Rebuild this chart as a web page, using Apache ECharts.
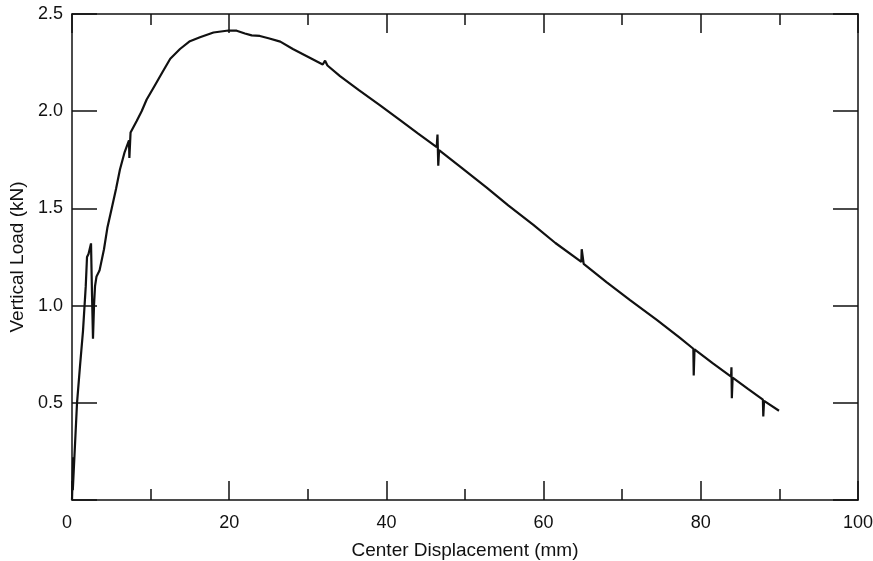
<!DOCTYPE html>
<html>
<head>
<meta charset="utf-8">
<script src="https://cdn.jsdelivr.net/npm/echarts@6/dist/echarts.min.js"></script>
<style>
  html, body { margin: 0; padding: 0; background: #fff; }
  #chart { width: 873px; height: 561px; }
</style>
</head>
<body>
<div id="chart"></div>
<script>
/* ── data: center displacement (mm) / vertical load (kN) ── */
const DISP = [
  0.0, 0.15, 0.1, 0.4, 0.64, 1.0, 1.4, 1.75, 1.91, 2.1, 2.42, 2.55, 2.67, 2.8, 2.93, 3.12, 3.5,
  4.07, 4.5, 5.05, 5.6, 6.1, 6.7, 7.25, 7.3, 7.45, 8.23, 8.86, 9.5, 10.5, 11.5, 12.5, 13.74,
  15.0, 16.28, 18.0, 19.9, 20.95, 22.0, 22.86, 23.0, 23.9, 25.0, 26.5, 28.1, 30.0, 31.9, 32.2,
  32.5, 34.1, 36.5, 39.2, 41.7, 44.0, 46.4, 46.5, 46.6, 46.7, 49.5, 52.76, 55.5, 58.7, 61.5,
  64.8, 64.85, 65.0, 65.1, 68.0, 71.0, 74.4, 77.35, 79.05, 79.1, 79.2, 81.5, 83.85, 83.9,
  83.95, 84.05, 86.0, 87.9, 87.95, 88.05, 89.95
]
const LOAD = [
  0.0, 0.22, 0.05, 0.30, 0.50, 0.68, 0.87, 1.10, 1.25, 1.265, 1.32, 1.05, 0.83, 1.00, 1.10, 1.15, 1.18,
  1.29, 1.40, 1.50, 1.60, 1.70, 1.79, 1.85, 1.76, 1.89, 1.95, 2.00, 2.06, 2.13, 2.20, 2.27, 2.32,
  2.36, 2.38, 2.405, 2.415, 2.414, 2.40, 2.39, 2.38, 2.387, 2.375, 2.358, 2.32, 2.28, 2.24, 2.26,
  2.235, 2.18, 2.108, 2.03, 1.955, 1.886, 1.815, 1.88, 1.72, 1.80, 1.711, 1.607, 1.516, 1.415, 1.322,
  1.225, 1.29, 1.28, 1.215, 1.121, 1.028, 0.926, 0.834, 0.778, 0.64, 0.775, 0.704, 0.635, 0.683,
  0.523, 0.63, 0.572, 0.516, 0.43, 0.51, 0.459
]

const X_MIN = 0, X_MAX = 100, X_STEP = 20
const Y_MIN = 0, Y_MAX = 2.5, Y_STEP = 0.5

const FONT = '"Liberation Sans", Arial, Helvetica, sans-serif'
const INK = '#111'

/* 공통 축 스타일 (ticks inside, box frame) */
function frameAxis(extra) {
  return Object.assign({
    type: 'value',
    axisLine: { show: true, onZero: false, lineStyle: { color: INK, width: 1.5 } },
    axisTick: { show: true, inside: true, lineStyle: { color: INK, width: 1.5 } },
    splitLine: { show: false },
  }, extra)
}

const chart = echarts.init(document.getElementById('chart'), null, { renderer: 'canvas' })

chart.setOption({
  backgroundColor: '#fff',
  animation: false,
  grid: { left: 72, right: 15, top: 14, bottom: 61, outerBoundsMode: 'none', containLabel: false },
  xAxis: [
    frameAxis({
      position: 'bottom', min: X_MIN, max: X_MAX, interval: X_STEP,
      axisTick: { show: true, inside: true, length: 19, lineStyle: { color: INK, width: 1.5 } },
      minorTick: { show: true, splitNumber: 2, length: 11, lineStyle: { color: INK, width: 1.5 } },
      axisLabel: { color: INK, fontSize: 18, fontFamily: FONT, margin: 14, alignMinLabel: 'right' },
      name: 'Center Displacement (mm)', nameLocation: 'middle', nameGap: 41,
      nameTextStyle: { color: INK, fontSize: 19, fontFamily: FONT },
    }),
    frameAxis({
      position: 'top', min: X_MIN, max: X_MAX, interval: X_STEP,
      axisTick: { show: true, inside: true, length: 19, lineStyle: { color: INK, width: 1.5 } },
      minorTick: { show: true, splitNumber: 2, length: 11, lineStyle: { color: INK, width: 1.5 } },
      axisLabel: { show: false },
    }),
  ],
  yAxis: [
    frameAxis({
      position: 'left', min: Y_MIN, max: Y_MAX, interval: Y_STEP,
      axisTick: { show: true, inside: true, length: 25, lineStyle: { color: INK, width: 1.5 } },
      axisLabel: {
        color: INK, fontSize: 18, fontFamily: FONT, margin: 9,
        formatter: v => v === 0 ? '' : v.toFixed(1),
      },
      name: 'Vertical Load (kN)', nameLocation: 'middle', nameGap: 42,
      nameTextStyle: { color: INK, fontSize: 19, fontFamily: FONT },
    }),
    frameAxis({
      position: 'right', min: Y_MIN, max: Y_MAX, interval: Y_STEP,
      axisTick: { show: true, inside: true, length: 25, lineStyle: { color: INK, width: 1.5 } },
      axisLabel: { show: false },
    }),
  ],
  series: [{
    type: 'line',
    xAxisIndex: 0,
    yAxisIndex: 0,
    data: DISP.map((d, i) => [d, LOAD[i]]),
    showSymbol: false,
    smooth: false,
    lineStyle: { color: INK, width: 2.2 },
  }],
})
</script>
</body>
</html>
